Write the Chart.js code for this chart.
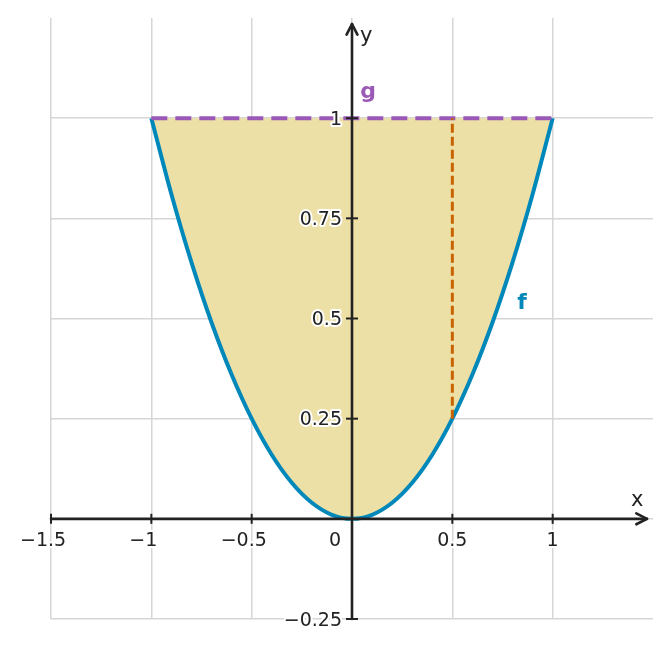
<!DOCTYPE html>
<html>
<head>
<meta charset="utf-8">
<script src="https://cdn.jsdelivr.net/npm/chart.js@4.4.1/dist/chart.umd.min.js"></script>
<style>
  html, body { margin: 0; padding: 0; background: #fff; }
  #wrap { width: 671px; height: 648px; position: relative; }
</style>
</head>
<body>
<div id="wrap"><canvas id="myChart"></canvas></div>
<script>
// curve f (parabola)
const fX = [-1, -0.9, -0.8, -0.7, -0.6, -0.5, -0.4, -0.3, -0.2, -0.1, 0, 0.1, 0.2, 0.3, 0.4, 0.5, 0.6, 0.7, 0.8, 0.9, 1];
const fY = [1, 0.81, 0.64, 0.49, 0.36, 0.25, 0.16, 0.09, 0.04, 0.01, 0, 0.01, 0.04, 0.09, 0.16, 0.25, 0.36, 0.49, 0.64, 0.81, 1];
// line g
const gX = [-1, 1];
const gY = [1, 1];
// vertical dashed segment
const segX = [0.5, 0.5];
const segY = [0.25, 1];

const xTicks = [-1.5, -1, -0.5, 0, 0.5, 1];
const yTicks = [-0.25, 0.25, 0.5, 0.75, 1];
const xLabels = ['−1.5', '−1', '−0.5', '0', '0.5', '1'];
const yLabels = ['−0.25', '0.25', '0.5', '0.75', '1'];

const pts = (xs, ys) => xs.map((x, i) => ({ x: x, y: ys[i] }));

const ctx = document.getElementById('myChart');

function halo(c, txt, x, y) {
  c.strokeText(txt, x, y);
  c.fillText(txt, x, y);
}

function arrowLine(c, x1, y1, x2, y2) {
  c.beginPath();
  c.moveTo(x1, y1);
  c.lineTo(x2, y2);
  c.stroke();
  const a = Math.atan2(y2 - y1, x2 - x1);
  const L = 12, s = 0.47;
  c.beginPath();
  c.moveTo(x2 - L * Math.cos(a - s), y2 - L * Math.sin(a - s));
  c.lineTo(x2, y2);
  c.lineTo(x2 - L * Math.cos(a + s), y2 - L * Math.sin(a + s));
  c.stroke();
}

const axesPlugin = {
  id: 'axesPlugin',
  afterDatasetsDraw(chart) {
    const c = chart.ctx;
    const xs = chart.scales.x, ys = chart.scales.y;
    const area = chart.chartArea;
    const x0 = xs.getPixelForValue(0), y0 = ys.getPixelForValue(0);
    c.save();
    c.strokeStyle = '#222';
    c.lineWidth = 2.6;
    c.lineCap = 'round';
    c.lineJoin = 'round';
    arrowLine(c, area.left, y0, area.right - 6, y0);
    arrowLine(c, x0, area.bottom, x0, area.top + 6);

    // tick marks
    c.lineWidth = 2;
    c.lineCap = 'butt';
    xTicks.forEach(v => {
      if (v === 0) return;
      const px = xs.getPixelForValue(v);
      c.beginPath(); c.moveTo(px, y0 - 5); c.lineTo(px, y0 + 5); c.stroke();
    });
    yTicks.forEach(v => {
      const py = ys.getPixelForValue(v);
      c.beginPath(); c.moveTo(x0 - 6, py); c.lineTo(x0 + 6, py); c.stroke();
    });

    // tick labels with white halo
    c.font = '19px "DejaVu Sans"';
    c.fillStyle = '#222';
    c.strokeStyle = '#fff';
    c.lineWidth = 4;
    c.textBaseline = 'alphabetic';
    xTicks.forEach((v, i) => {
      const px = xs.getPixelForValue(v);
      const txt = xLabels[i];
      if (v === 0) {
        c.textAlign = 'center';
        halo(c, txt, x0 - 17, y0 + 27);
      } else if (v < 0) {
        const w = c.measureText(txt.slice(1)).width;
        c.textAlign = 'right';
        halo(c, txt, px + w / 2, y0 + 27);
      } else {
        c.textAlign = 'center';
        halo(c, txt, px, y0 + 27);
      }
    });
    c.textAlign = 'right';
    yTicks.forEach((v, i) => {
      const py = ys.getPixelForValue(v);
      halo(c, yLabels[i], x0 - 10, py + 6.5);
    });

    // axis names
    c.font = '21px "DejaVu Sans"';
    c.textAlign = 'left';
    c.fillText('x', 631, 506);
    c.fillText('y', 360, 42);

    // curve names
    c.font = 'bold 22px "DejaVu Sans"';
    c.textAlign = 'center';
    c.fillStyle = '#9b59b6';
    c.fillText('g', 368, 98);
    c.fillStyle = '#0088ba';
    c.fillText('f', 522, 309);
    c.restore();
  }
};

new Chart(ctx, {
  type: 'line',
  data: {
    datasets: [{
      label: 'seg',
      data: pts(segX, segY),
      borderColor: '#c86400',
      borderWidth: 3,
      borderDash: [9, 4],
      fill: false,
      pointRadius: 0
    }, {
      label: 'g',
      data: pts(gX, gY),
      borderColor: '#9b59b6',
      borderWidth: 4,
      borderDash: [16, 8],
      fill: false,
      pointRadius: 0
    }, {
      label: 'f',
      data: pts(fX, fY),
      borderColor: '#0088ba',
      borderWidth: 4,
      backgroundColor: '#ede0a6',
      fill: { value: 1 },
      cubicInterpolationMode: 'monotone',
      pointRadius: 0
    }]
  },
  options: {
    responsive: true,
    maintainAspectRatio: false,
    animation: false,
    events: [],
    layout: { padding: { left: 51, right: 18, top: 18, bottom: 29 } },
    plugins: {
      legend: { display: false },
      tooltip: { enabled: false }
    },
    scales: {
      x: {
        type: 'linear',
        min: -1.5,
        max: 1.5,
        border: { display: false },
        ticks: { display: false, stepSize: 0.5 },
        grid: {
          drawTicks: false,
          lineWidth: 1.5,
          color: (c) => (c.tick && c.tick.value === 1.5) ? 'rgba(0,0,0,0)' : '#d6d6d6'
        }
      },
      y: {
        type: 'linear',
        min: -0.25,
        max: 1.25,
        border: { display: false },
        ticks: { display: false, stepSize: 0.25 },
        grid: {
          drawTicks: false,
          lineWidth: 1.5,
          color: (c) => (c.tick && c.tick.value === 1.25) ? 'rgba(0,0,0,0)' : '#d6d6d6'
        }
      }
    }
  },
  plugins: [axesPlugin]
});
</script>
</body>
</html>
